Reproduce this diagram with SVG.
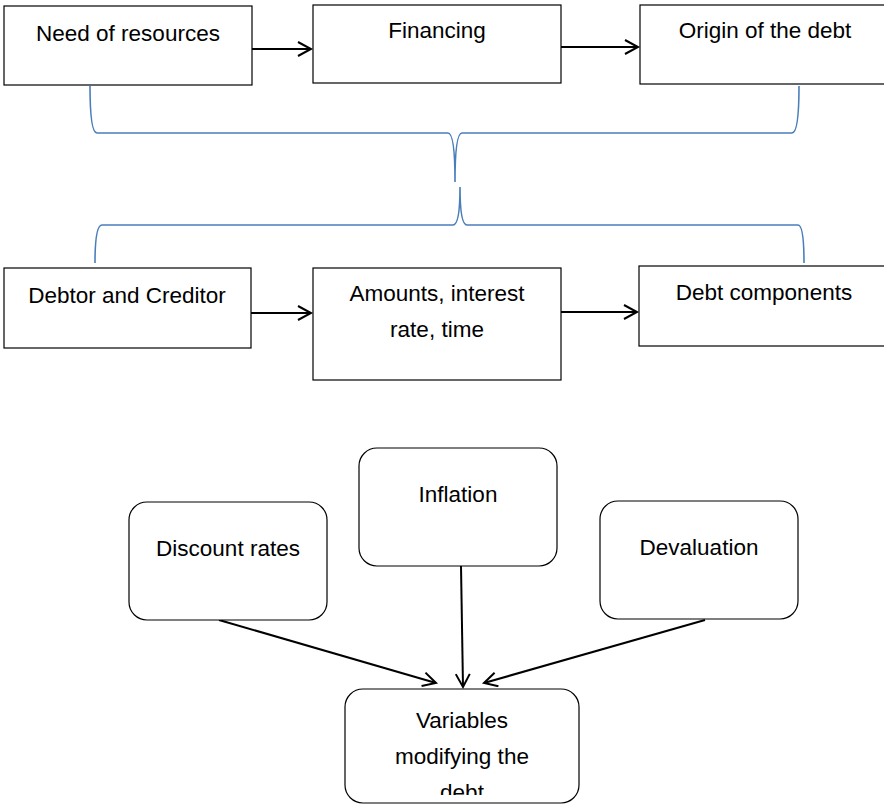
<svg xmlns="http://www.w3.org/2000/svg" width="884" height="805" viewBox="0 0 884 805">
<style>
.box{fill:#fff;stroke:#000;stroke-width:1.2}
.rbox{fill:#fff;stroke:#000;stroke-width:1.2}
.t{font-family:"Liberation Sans",Arial,sans-serif;font-size:22.5px;fill:#000;text-anchor:middle}
.arr{stroke:#000;stroke-width:2;fill:none;marker-end:url(#ah)}
.brace{stroke:#4a7ebb;stroke-width:1.6;fill:none}
</style>
<defs>
<marker id="ah" markerWidth="20" markerHeight="20" refX="15" refY="8" orient="auto" markerUnits="userSpaceOnUse">
<path d="M2,1 L15,8 L2,15" fill="none" stroke="#000" stroke-width="2"/>
</marker>
<clipPath id="clipV"><rect x="345" y="689" width="234" height="106"/></clipPath>
</defs>
<rect width="884" height="805" fill="#fff"/>
<g id="connectors">
<line class="arr" x1="252" y1="49" x2="311" y2="49"/>
<line class="arr" x1="561" y1="47" x2="638" y2="47"/>
<line class="arr" x1="251" y1="313" x2="311" y2="313"/>
<line class="arr" x1="561" y1="312" x2="637" y2="312"/>
<line class="arr" x1="219" y1="620" x2="436" y2="683"/>
<line class="arr" x1="461" y1="566" x2="463" y2="687"/>
<line class="arr" x1="705" y1="620" x2="484" y2="683"/>
<path class="brace" d="M90,86 Q90,133 97,133 L448,133 Q455,133 455,182 Q455,133 462,133 L792,133 Q799,133 799,86"/>
<path class="brace" d="M95,263 Q95,225 102,225 L453,225 Q460,225 460,187 Q460,225 467,225 L798,225 Q804,225 804,263"/>
</g>
<g id="n1"><rect class="box" x="4" y="6" width="248" height="79"/><text class="t" x="128" y="41">Need of resources</text></g>
<g id="n2"><rect class="box" x="313" y="5" width="248" height="78"/><text class="t" x="437" y="38">Financing</text></g>
<g id="n3"><rect class="box" x="640" y="5" width="250" height="79"/><text class="t" x="765" y="38">Origin of the debt</text></g>
<g id="n4"><rect class="box" x="4" y="268" width="247" height="80"/><text class="t" x="127" y="303">Debtor and Creditor</text></g>
<g id="n5"><rect class="box" x="313" y="268" width="248" height="112"/><text class="t" x="437" y="301">Amounts, interest</text><text class="t" x="437" y="337">rate, time</text></g>
<g id="n6"><rect class="box" x="639" y="266" width="250" height="80"/><text class="t" x="764" y="300">Debt components</text></g>
<g id="n7"><rect class="rbox" x="129" y="502" width="198" height="118" rx="18"/><text class="t" x="228" y="556">Discount rates</text></g>
<g id="n8"><rect class="rbox" x="359" y="448" width="198" height="118" rx="18"/><text class="t" x="458" y="502">Inflation</text></g>
<g id="n9"><rect class="rbox" x="600" y="501" width="198" height="118" rx="18"/><text class="t" x="699" y="555">Devaluation</text></g>
<g id="n10"><rect class="rbox" x="345" y="689" width="234" height="114" rx="18"/>
<g clip-path="url(#clipV)"><text class="t" x="462" y="728">Variables</text><text class="t" x="462" y="764">modifying the</text><text class="t" x="462" y="800">debt</text></g></g>
</svg>
